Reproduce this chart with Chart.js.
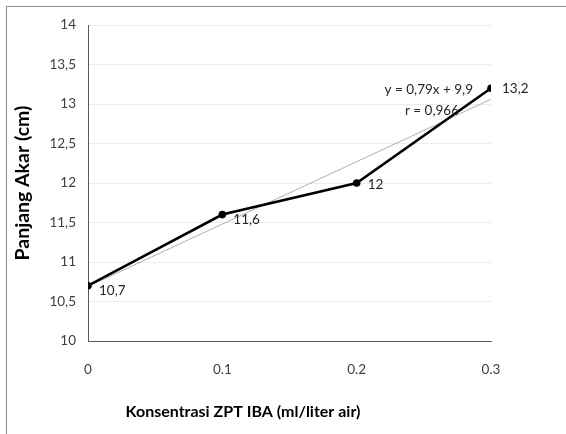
<!DOCTYPE html>
<html>
<head>
<meta charset="utf-8">
<script src="https://cdn.jsdelivr.net/npm/chart.js@4/dist/chart.umd.min.js"></script>
<style>
  html, body { margin: 0; padding: 0; background: #fff; }
  #wrap { position: relative; width: 566px; height: 434px; }
</style>
</head>
<body>
<div id="wrap"><canvas id="chart" width="566" height="434"></canvas></div>
<script>
// concentration levels (ml/liter air) and root length (cm)
const doses = [0, 0.1, 0.2, 0.3];
const rootLength = [10.7, 11.6, 12, 13.2];
const pointLabels = ['10,7', '11,6', '12', '13,2'];

// linear trend ends, y = 0,79x + 9,9 over the four treatments
const trendX = [0, 0.3];
const trendY = [10.69, 13.06];
const trendText = ['y = 0,79x + 9,9', 'r = 0,966'];

const yTicks = [10, 10.5, 11, 11.5, 12, 12.5, 13, 13.5, 14];
const xTicks = [0, 0.1, 0.2, 0.3];

const FONT = 'Lato, "Open Sans", sans-serif';

const comma = v => String(v).replace('.', ',');

// outer frame + x title + value labels
const extras = {
  id: 'extras',
  beforeDraw(chart) {
    const c = chart.ctx;
    c.save();
    c.strokeStyle = '#8c8c8c';
    c.lineWidth = 1;
    c.strokeRect(6.5, 6.5, 700, 600);
    c.restore();
  },
  afterDatasetsDraw(chart) {
    const c = chart.ctx;
    const xs = chart.scales.x, ys = chart.scales.y;
    c.save();
    c.fillStyle = '#262626';
    c.font = '13.5px ' + FONT;
    c.textBaseline = 'middle';
    c.textAlign = 'left';
    rootLength.forEach((v, i) => {
      const px = xs.getPixelForValue(doses[i]);
      const py = ys.getPixelForValue(v);
      const dy = i === 3 ? 0 : (i === 2 ? 2 : 5);
      c.fillText(pointLabels[i], px + 11, py + dy);
    });
    // trendline equation
    c.textAlign = 'right';
    const ex = xs.getPixelForValue(0.3);
    const ey = ys.getPixelForValue(13.2);
    c.fillText(trendText[0], ex - 18, ey + 1);
    c.fillText(trendText[1], ex - 32, ey + 22);
    // x axis title
    c.fillStyle = '#000';
    c.font = 'bold 16px ' + FONT;
    c.textAlign = 'center';
    c.fillText('Konsentrasi ZPT IBA (ml/liter air)', 243, 412);
    c.restore();
  }
};

new Chart(document.getElementById('chart'), {
  type: 'line',
  data: {
    datasets: [
      {
        label: 'Panjang Akar',
        data: doses.map((d, i) => ({ x: d, y: rootLength[i] })),
        borderColor: '#000',
        backgroundColor: '#000',
        borderWidth: 2.6,
        pointRadius: 3.8,
        pointBorderWidth: 0,
        tension: 0,
        order: 1
      },
      {
        label: 'Trend',
        data: trendX.map((d, i) => ({ x: d, y: trendY[i] })),
        borderColor: '#a6a6a6',
        borderWidth: 0.9,
        pointRadius: 0,
        order: 2
      }
    ]
  },
  options: {
    responsive: false,
    animation: false,
    events: [],
    layout: { padding: { top: 25, right: 75, left: 0, bottom: 0 } },
    plugins: {
      legend: { display: false },
      tooltip: { enabled: false }
    },
    scales: {
      x: {
        type: 'linear',
        min: 0,
        max: 0.3,
        afterFit(s) { s.height = 93; },
        afterBuildTicks(s) { s.ticks = xTicks.map(v => ({ value: v })); },
        grid: { display: false, drawTicks: false },
        border: { color: '#595959', width: 1 },
        ticks: {
          padding: 21,
          color: '#404040',
          font: { family: FONT, size: 13.5 },
          callback: v => String(v)
        }
      },
      y: {
        min: 10,
        max: 14,
        afterFit(s) { s.width = 88; },
        afterBuildTicks(s) { s.ticks = yTicks.map(v => ({ value: v })); },
        grid: { color: '#ececec', drawTicks: false },
        border: { color: '#595959', width: 1 },
        ticks: {
          padding: 12,
          color: '#404040',
          font: { family: FONT, size: 13.5 },
          callback: v => comma(v)
        },
        title: {
          display: true,
          text: 'Panjang Akar (cm)',
          color: '#000',
          font: { family: FONT, size: 19.5, weight: 'bold' },
          padding: { top: 11, bottom: 0 }
        }
      }
    }
  },
  plugins: [extras]
});
</script>
</body>
</html>
